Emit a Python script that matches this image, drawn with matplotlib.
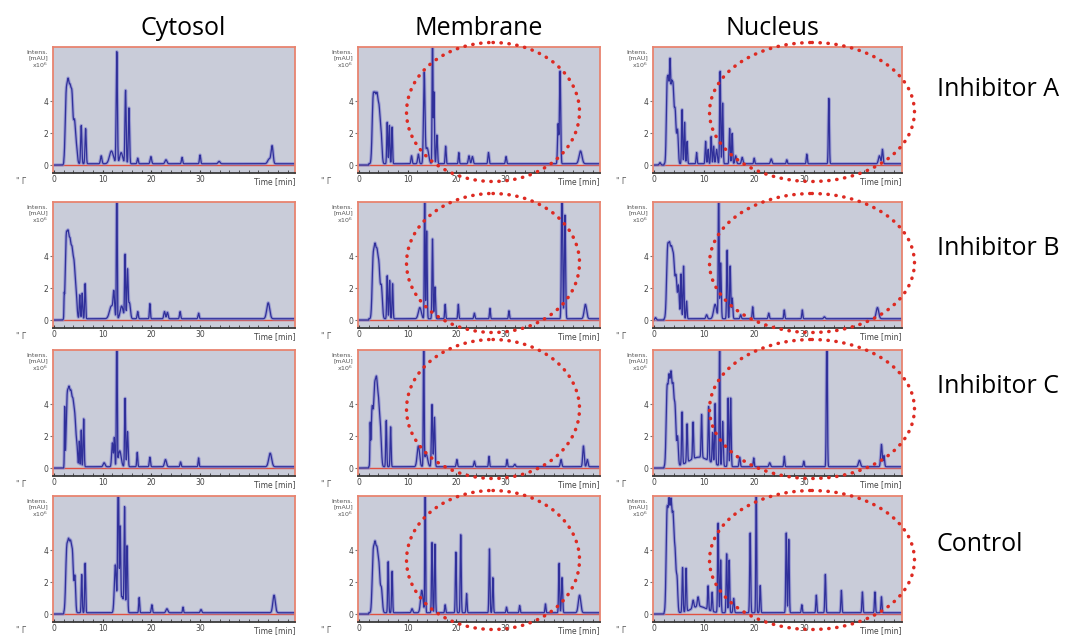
import numpy as np
import matplotlib
matplotlib.use('Agg')
import matplotlib.pyplot as plt
from matplotlib.patches import Ellipse

# column / row names
columns = ['Cytosol', 'Membrane', 'Nucleus']
rows = ['Inhibitor A', 'Inhibitor B', 'Inhibitor C', 'Control']

# peaks: (time [min], intensity [x10^6 mAU], width [min])
cyto_A = [(2.5, 4.0, 0.2), (2.9, 4.3, 0.2), (3.3, 3.9, 0.2), (3.7, 3.9, 0.2), (4.2, 2.5, 0.2),
          (4.6, 1.0, 0.2), (5.6, 2.4, 0.12), (6.5, 2.2, 0.12), (9.7, 0.5, 0.15), (11.8, 0.8, 0.4),
          (12.9, 7.0, 0.12), (13.8, 0.7, 0.3), (14.7, 4.6, 0.12), (15.4, 3.5, 0.12), (17.2, 0.35, 0.12),
          (19.9, 0.45, 0.15), (23.0, 0.25, 0.2), (26.3, 0.4, 0.12), (30.0, 0.55, 0.12), (33.9, 0.15, 0.2),
          (44.2, 0.3, 0.3), (44.8, 1.1, 0.2)]
cyto_B = [(2.1, 1.0, 0.05), (2.5, 4.6, 0.2), (2.9, 4.4, 0.2), (3.3, 4.0, 0.2), (3.7, 3.6, 0.2),
          (4.1, 3.0, 0.2), (4.5, 1.8, 0.2), (5.3, 1.5, 0.1), (5.8, 1.6, 0.1), (6.4, 2.2, 0.1),
          (11.8, 0.8, 0.4), (12.3, 1.4, 0.15), (12.9, 9.0, 0.08), (13.9, 0.8, 0.3), (14.6, 4.0, 0.1),
          (15.1, 3.0, 0.12), (15.5, 1.0, 0.2), (17.2, 0.45, 0.12), (19.7, 0.95, 0.1), (22.7, 0.45, 0.15),
          (23.3, 0.4, 0.15), (25.9, 0.45, 0.12), (29.7, 0.35, 0.12), (44.0, 1.0, 0.3)]
cyto_C = [(2.2, 3.6, 0.06), (2.7, 4.0, 0.2), (3.1, 4.0, 0.2), (3.5, 3.8, 0.2), (3.9, 3.4, 0.2),
          (4.3, 2.8, 0.2), (4.7, 1.2, 0.15), (5.2, 1.6, 0.08), (5.6, 2.3, 0.08), (6.1, 3.0, 0.1),
          (10.3, 0.25, 0.2), (12.0, 1.5, 0.15), (12.4, 1.8, 0.1), (12.9, 9.0, 0.08), (13.5, 1.0, 0.3),
          (14.6, 4.3, 0.1), (15.1, 2.2, 0.12), (17.1, 0.9, 0.1), (19.7, 0.6, 0.12), (22.9, 0.45, 0.2),
          (26.0, 0.3, 0.12), (29.7, 0.55, 0.1), (44.4, 0.85, 0.3)]
cyto_D = [(2.6, 3.6, 0.2), (3.0, 3.7, 0.2), (3.4, 3.6, 0.2), (3.8, 3.4, 0.2), (4.3, 2.2, 0.15),
          (5.7, 2.4, 0.1), (6.4, 3.1, 0.1), (12.6, 3.0, 0.2), (13.2, 9.0, 0.12), (13.6, 5.0, 0.1),
          (14.0, 1.0, 0.3), (14.5, 6.4, 0.1), (15.0, 4.2, 0.12), (17.5, 0.95, 0.1), (20.1, 0.5, 0.12),
          (23.2, 0.25, 0.2), (26.5, 0.35, 0.1), (30.2, 0.2, 0.15), (45.2, 1.1, 0.25)]

memb_A = [(2.9, 3.8, 0.2), (3.3, 3.5, 0.2), (3.7, 3.6, 0.2), (4.1, 3.0, 0.2), (4.5, 2.0, 0.2),
          (5.8, 2.6, 0.1), (6.25, 2.4, 0.1), (6.8, 2.3, 0.1), (10.8, 0.5, 0.12), (12.2, 0.6, 0.15),
          (13.4, 5.6, 0.15), (14.0, 1.0, 0.3), (15.1, 9.0, 0.08), (15.4, 4.5, 0.1), (16.0, 1.8, 0.12),
          (17.8, 1.1, 0.1), (20.5, 0.7, 0.1), (22.6, 0.5, 0.15), (23.3, 0.45, 0.15), (26.6, 0.7, 0.12),
          (30.2, 0.45, 0.12), (40.9, 2.5, 0.12), (41.3, 5.8, 0.12), (45.5, 0.8, 0.3)]
memb_B = [(2.9, 3.5, 0.2), (3.3, 3.8, 0.2), (3.7, 3.5, 0.2), (4.1, 3.0, 0.2), (4.6, 2.0, 0.2),
          (5.8, 2.7, 0.1), (6.3, 2.4, 0.1), (6.9, 2.2, 0.1), (12.5, 0.7, 0.3), (13.5, 9.0, 0.08),
          (13.9, 5.5, 0.1), (15.1, 5.0, 0.1), (15.6, 2.0, 0.12), (17.7, 0.9, 0.1), (20.4, 0.9, 0.1),
          (23.7, 0.35, 0.12), (26.9, 0.65, 0.1), (30.8, 0.5, 0.1), (41.7, 9.0, 0.12), (42.3, 6.5, 0.12),
          (46.5, 0.9, 0.25)]
memb_C = [(2.3, 2.3, 0.06), (2.7, 3.6, 0.2), (3.2, 4.4, 0.2), (3.6, 4.6, 0.2), (4.0, 3.5, 0.2),
          (4.4, 2.2, 0.2), (5.6, 2.9, 0.1), (6.5, 2.5, 0.1), (12.2, 1.3, 0.25), (13.3, 9.0, 0.08),
          (13.8, 0.8, 0.3), (15.0, 3.9, 0.12), (15.5, 3.1, 0.12), (20.1, 0.45, 0.12), (23.7, 0.35, 0.12),
          (26.7, 0.65, 0.1), (30.4, 0.45, 0.1), (32.0, 0.15, 0.15), (41.5, 0.45, 0.15), (46.1, 1.3, 0.15),
          (46.9, 0.45, 0.15)]
memb_D = [(2.9, 3.4, 0.2), (3.3, 3.6, 0.2), (3.7, 3.3, 0.2), (4.1, 2.7, 0.2), (4.6, 1.5, 0.2),
          (6.0, 3.2, 0.1), (6.8, 2.6, 0.1), (10.9, 0.25, 0.15), (12.9, 1.4, 0.25), (13.6, 9.0, 0.08),
          (15.0, 4.4, 0.1), (15.6, 4.3, 0.1), (17.7, 0.5, 0.1), (19.9, 3.8, 0.1), (20.9, 4.9, 0.1),
          (22.1, 1.2, 0.1), (26.8, 4.0, 0.1), (27.5, 2.2, 0.1), (30.3, 0.35, 0.1), (33.0, 0.45, 0.1),
          (38.3, 0.55, 0.1), (41.1, 3.1, 0.1), (41.7, 2.2, 0.12), (45.3, 1.1, 0.25)]

nucl_A = [(1.2, 0.15, 0.15), (2.6, 4.5, 0.15), (2.9, 4.6, 0.15), (3.2, 5.4, 0.12), (3.5, 4.4, 0.15),
          (3.8, 4.0, 0.15), (4.2, 3.4, 0.2), (4.7, 2.0, 0.15), (5.6, 3.4, 0.1), (6.1, 2.6, 0.1),
          (6.6, 1.4, 0.1), (8.5, 0.7, 0.1), (10.3, 1.4, 0.1), (10.8, 0.9, 0.1), (11.4, 1.7, 0.1),
          (11.9, 1.1, 0.1), (12.5, 0.9, 0.15), (13.2, 5.8, 0.1), (13.7, 3.8, 0.1), (15.1, 2.2, 0.1),
          (15.6, 1.9, 0.1), (16.3, 0.5, 0.15), (17.6, 0.4, 0.15), (20.0, 0.35, 0.1), (23.4, 0.3, 0.15),
          (26.5, 0.25, 0.1), (30.5, 0.6, 0.1), (34.9, 4.1, 0.1), (45.0, 0.5, 0.2), (45.6, 0.9, 0.12)]
nucl_B = [(0.3, 0.15, 0.15), (2.7, 4.0, 0.2), (3.1, 3.8, 0.2), (3.5, 3.6, 0.2), (3.9, 3.4, 0.2),
          (4.4, 2.6, 0.2), (4.9, 2.0, 0.15), (5.4, 2.8, 0.1), (5.9, 3.3, 0.1), (6.5, 1.1, 0.1),
          (10.5, 0.25, 0.15), (12.2, 0.9, 0.3), (12.9, 9.0, 0.08), (13.3, 3.5, 0.12), (14.6, 4.3, 0.1),
          (15.2, 3.3, 0.1), (15.6, 1.3, 0.12), (17.3, 0.25, 0.12), (19.7, 0.75, 0.1), (22.9, 0.35, 0.12),
          (26.0, 0.55, 0.1), (29.6, 0.55, 0.1), (34.0, 0.12, 0.15), (44.6, 0.7, 0.25)]
nucl_C = [(2.6, 4.6, 0.18), (3.0, 5.0, 0.18), (3.4, 5.2, 0.18), (3.8, 4.5, 0.18), (4.2, 3.5, 0.18),
          (4.7, 1.8, 0.15), (5.6, 3.3, 0.1), (6.6, 2.4, 0.1), (7.8, 2.3, 0.1), (9.0, 0.6, 2.0),
          (9.5, 2.7, 0.1), (10.9, 3.4, 0.1), (11.7, 1.9, 0.1), (12.2, 3.8, 0.1), (13.1, 9.0, 0.08),
          (13.7, 2.8, 0.12), (14.8, 4.3, 0.1), (15.3, 4.3, 0.1), (17.1, 0.6, 0.12), (19.9, 0.55, 0.1),
          (23.1, 0.25, 0.15), (26.0, 0.65, 0.1), (29.9, 0.35, 0.1), (34.5, 9.0, 0.1), (41.0, 0.4, 0.2),
          (45.4, 1.4, 0.15), (45.9, 0.7, 0.12)]
nucl_D = [(2.6, 6.0, 0.18), (3.0, 6.2, 0.18), (3.4, 6.2, 0.18), (3.8, 5.5, 0.18), (4.2, 3.6, 0.18),
          (4.6, 2.0, 0.15), (5.7, 2.8, 0.1), (6.4, 2.7, 0.1), (7.8, 0.5, 0.15), (8.8, 0.6, 0.15),
          (9.0, 0.4, 1.5), (10.8, 1.5, 0.1), (11.6, 1.2, 0.1), (12.8, 5.6, 0.1), (13.3, 3.3, 0.1),
          (14.5, 3.7, 0.1), (15.0, 3.3, 0.1), (15.9, 0.9, 0.12), (19.2, 5.0, 0.1), (20.4, 9.0, 0.08),
          (21.2, 1.7, 0.1), (26.4, 5.0, 0.1), (26.9, 4.6, 0.1), (29.5, 0.5, 0.1), (32.4, 1.1, 0.1),
          (34.2, 2.4, 0.1), (37.4, 1.4, 0.1), (41.6, 1.3, 0.1), (44.1, 1.3, 0.1), (45.4, 1.0, 0.1)]

grid = [[cyto_A, memb_A, nucl_A],
        [cyto_B, memb_B, nucl_B],
        [cyto_C, memb_C, nucl_C],
        [cyto_D, memb_D, nucl_D]]

baseline = 0.08   # detector offset after injection
W, H = 1069, 639

# layout in pixels
col_left = [53, 358, 653]
col_width = [242, 242, 249]
row_top = [47, 202, 350, 496]
panel_h = 126


def trace(t, peaks):
    y = np.where(t > 2.0, baseline, 0.0)
    for t0, h, w in peaks:
        y = y + h * np.exp(-0.5 * ((t - t0) / w) ** 2)
    return y


fig = plt.figure(figsize=(W / 100, H / 100), dpi=100)
fig.patch.set_facecolor('white')

t = np.linspace(0, 49.5, 4000)
bg = '#c9ccd9'
frame = '#e8836f'

for r in range(4):
    for c in range(3):
        ax = fig.add_axes([col_left[c] / W, 1 - (row_top[r] + panel_h) / H,
                           col_width[c] / W, panel_h / H])
        ax.set_facecolor(bg)
        y = trace(t, grid[r][c])
        ax.plot(t, y, color='#8a8ad0', lw=2.4, alpha=0.7, solid_joinstyle='round')
        ax.plot(t, y, color='#30309a', lw=0.9)
        ax.axhline(0, color='#e05040', lw=1.0, zorder=1)
        ax.set_xlim(-0.2, 49.5)
        ax.set_ylim(-0.5, 7.4)
        for s in ['top', 'left', 'right']:
            ax.spines[s].set_color(frame)
            ax.spines[s].set_linewidth(1.3)
        ax.spines['bottom'].set_color('#3a3a3a')
        ax.spines['bottom'].set_linewidth(1.3)
        ax.set_xticks([0, 10, 20, 30])
        ax.set_xticks(np.arange(0, 49, 2), minor=True)
        ax.set_yticks([0, 2, 4])
        ax.tick_params(axis='x', which='both', direction='in', length=2.5, color='#3a3a3a',
                       labelsize=5.5, labelcolor='#444444', pad=1.5)
        ax.tick_params(axis='y', direction='out', length=2, color='#777777',
                       labelsize=5.5, labelcolor='#444444', pad=1.5)
        ax.text(1.0, -0.035, 'Time [min]', transform=ax.transAxes, ha='right', va='top',
                fontsize=5.5, color='#444444')
        ax.text(-0.02, 0.98, 'Intens.\n[mAU]\nx10$^6$', transform=ax.transAxes, ha='right',
                va='top', fontsize=4.5, color='#555555', linespacing=1.1)
        ax.text(-0.13, -0.035, '" Γ', transform=ax.transAxes, ha='center', va='top',
                fontsize=5.5, color='#555555')

# overlay in pixel coordinates for labels and highlight ellipses
ov = fig.add_axes([0, 0, 1, 1], zorder=10)
ov.set_xlim(0, W)
ov.set_ylim(H, 0)
ov.axis('off')
ov.patch.set_alpha(0)

title_x = [183, 479, 772]
for x, name in zip(title_x, columns):
    ov.text(x, 35, name, ha='center', va='baseline', fontsize=18, family='Open Sans')

row_base = [96, 255, 393, 551]
for yb, name in zip(row_base, rows):
    ov.text(937, yb, name, ha='left', va='baseline', fontsize=18, family='Open Sans')

ell_y = [112, 263, 409, 560]
for yc in ell_y:
    for xc, w in [(493, 173), (812, 205)]:
        e = Ellipse((xc, yc), w, 139, fill=False, edgecolor='#dd2a22', lw=2.5,
                    linestyle=(0, (0.1, 2.2)), capstyle='round')
        ov.add_patch(e)

plt.savefig('out.png', dpi=100)
